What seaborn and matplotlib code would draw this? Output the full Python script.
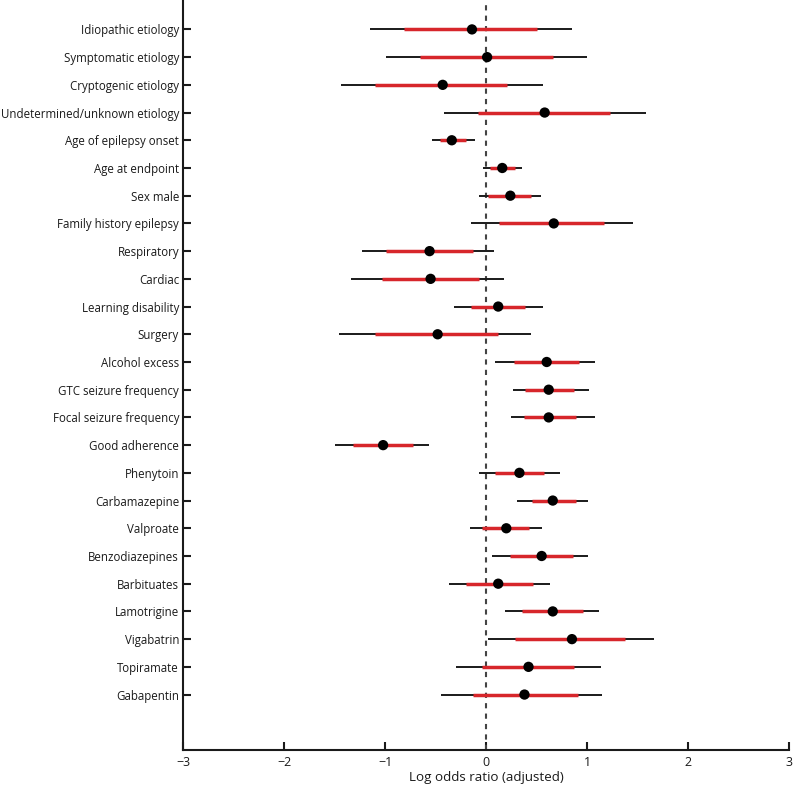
import matplotlib
matplotlib.use("Agg")
import matplotlib.pyplot as plt
import pandas as pd
import seaborn as sns

# Covariates, top to bottom
labels = [
    "Idiopathic etiology", "Symptomatic etiology", "Cryptogenic etiology",
    "Undetermined/unknown etiology", "Age of epilepsy onset", "Age at endpoint",
    "Sex male", "Family history epilepsy", "Respiratory", "Cardiac",
    "Learning disability", "Surgery", "Alcohol excess", "GTC seizure frequency",
    "Focal seizure frequency", "Good adherence", "Phenytoin", "Carbamazepine",
    "Valproate", "Benzodiazepines", "Barbituates", "Lamotrigine", "Vigabatrin",
    "Topiramate", "Gabapentin",
]
estimate = [-0.14, 0.01, -0.43, 0.58, -0.34, 0.16, 0.24, 0.67, -0.56, -0.55,
            0.12, -0.48, 0.60, 0.62, 0.62, -1.02, 0.33, 0.66, 0.20, 0.55,
            0.12, 0.66, 0.85, 0.42, 0.38]
# outer interval (black)
outer_lo = [-1.15, -0.99, -1.44, -0.42, -0.54, -0.03, -0.07, -0.15, -1.23, -1.34,
            -0.32, -1.46, 0.09, 0.27, 0.25, -1.50, -0.07, 0.31, -0.16, 0.06,
            -0.37, 0.19, 0.02, -0.30, -0.45]
outer_hi = [0.85, 1.00, 0.56, 1.58, -0.11, 0.36, 0.54, 1.45, 0.08, 0.18,
            0.56, 0.44, 1.08, 1.02, 1.08, -0.57, 0.73, 1.01, 0.55, 1.01,
            0.63, 1.12, 1.66, 1.14, 1.15]
# inner interval (red)
inner_lo = [-0.81, -0.65, -1.10, -0.08, -0.46, 0.04, 0.02, 0.13, -0.99, -1.03,
            -0.15, -1.10, 0.28, 0.39, 0.38, -1.32, 0.09, 0.45, -0.04, 0.24,
            -0.20, 0.36, 0.29, -0.04, -0.13]
inner_hi = [0.50, 0.66, 0.21, 1.23, -0.20, 0.29, 0.44, 1.17, -0.13, -0.07,
            0.39, 0.12, 0.92, 0.87, 0.89, -0.72, 0.57, 0.89, 0.42, 0.86,
            0.46, 0.96, 1.38, 0.87, 0.91]

df = pd.DataFrame({
    "label": labels,
    "estimate": estimate,
    "outer_lo": outer_lo,
    "outer_hi": outer_hi,
    "inner_lo": inner_lo,
    "inner_hi": inner_hi,
})
df["pos"] = range(len(df))

sns.set_theme(style="ticks")
plt.rcParams["font.family"] = ["Open Sans", "DejaVu Sans"]

fig = plt.figure(figsize=(7.93, 7.85), dpi=100)
ax = fig.add_axes([0.231, 0.0446, 0.764, 0.955])

ax.axvline(0, color="#444444", linestyle=(0, (2.5, 2.5)), linewidth=1.5, zorder=1)
ax.hlines(df["pos"], df["outer_lo"], df["outer_hi"], color="#1a1a1a", linewidth=1.4, zorder=2)
ax.hlines(df["pos"], df["inner_lo"], df["inner_hi"], color="#d7262b", linewidth=2.5, zorder=3)
sns.scatterplot(data=df, x="estimate", y="pos", color="black", s=55,
                edgecolor="none", zorder=4, ax=ax, legend=False)

ax.set_xlim(-3, 3)
ax.set_ylim(26, -1.05)
ax.set_yticks(df["pos"])
ax.set_yticklabels(df["label"])
ax.set_xticks(range(-3, 4))
ax.tick_params(axis="both", direction="in", length=6, width=1.5, colors="#1a1a1a",
               labelcolor="#1a1a1a")
ax.tick_params(axis="y", labelsize=8.3, pad=3)
ax.tick_params(axis="x", labelsize=9, pad=4)
ax.set_xlabel("Log odds ratio (adjusted)", fontsize=9.6, color="#1a1a1a", labelpad=2)
ax.set_ylabel("")

sns.despine(ax=ax)
for side in ["left", "bottom"]:
    ax.spines[side].set_linewidth(1.5)
    ax.spines[side].set_color("#1a1a1a")

fig.savefig("out.png", dpi=100)
